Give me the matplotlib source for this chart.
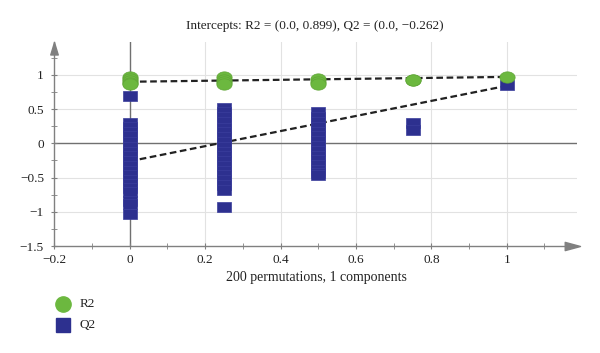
import matplotlib
matplotlib.use("Agg")
import matplotlib.pyplot as plt
from matplotlib.path import Path
import numpy as np

plt.rcParams['font.family'] = ['Liberation Serif', 'DejaVu Serif']

# ---- data ----
title = "Intercepts: R2 = (0.0, 0.899), Q2 = (0.0, \u22120.262)"
xlabel = "200 permutations, 1 components"

r2_x = [0, 0, 0, 0, 0, 0.25, 0.25, 0.25, 0.25, 0.5, 0.5, 0.5, 0.75, 0.75, 1.0]
r2_y = [0.97, 0.94, 0.91, 0.88, 0.86, 0.97, 0.93, 0.89, 0.86, 0.94, 0.90, 0.87, 0.93, 0.92, 0.97]

q2_x = [0]*20 + [0.25]*19 + [0.5]*15 + [0.75]*2 + [1.0]
q2_y = ([0.69, 0.30, 0.24, 0.17, 0.10, 0.02, -0.05, -0.12, -0.19, -0.26, -0.33, -0.40,
         -0.46, -0.53, -0.60, -0.66, -0.71, -0.84, -0.89, -1.03] +
        [0.52, 0.45, 0.38, 0.31, 0.23, 0.16, 0.09, 0.02, -0.05, -0.12, -0.19, -0.26,
         -0.33, -0.40, -0.47, -0.54, -0.61, -0.68, -0.93] +
        [0.45, 0.38, 0.31, 0.24, 0.17, 0.10, 0.03, -0.04, -0.11, -0.18, -0.25, -0.32,
         -0.39, -0.44, -0.47] +
        [0.29, 0.20] +
        [0.85])

r2_intercept = 0.899
r2_orig = 0.97
q2_intercept = -0.262
q2_orig = 0.84

xticks = [-0.2, 0, 0.2, 0.4, 0.6, 0.8, 1]
xticklabels = ["\u22120.2", "0", "0.2", "0.4", "0.6", "0.8", "1"]
yticks = [-1.5, -1, -0.5, 0, 0.5, 1]
yticklabels = ["\u22121.5", "\u22121", "\u22120.5", "0", "0.5", "1"]

# ---- markers ----
t = np.linspace(0, 2*np.pi, 60)
ell = Path(np.column_stack([0.5*np.cos(t), 0.37*np.sin(t)]), closed=True)
rect = Path([(-0.5, -0.32), (0.5, -0.32), (0.5, 0.32), (-0.5, 0.32), (-0.5, -0.32)], closed=True)
# arrow heads with the tip at the origin
arrow_r = Path([(0, 0), (-1.0, 0.27), (-1.0, -0.27), (0, 0)], closed=True)
arrow_u = Path([(0, 0), (0.3, -1.0), (-0.3, -1.0), (0, 0)], closed=True)

green = "#6cb83f"
green_e = "#5fa536"
blue = "#2d308f"
blue_e = "#3a3d9c"
axcol = "#808080"

fig = plt.figure(figsize=(6.0, 3.53), dpi=100)
ax = fig.add_axes([0.0905, 0.3031, 0.871, 0.578])
ax.set_xlim(-0.2, 1.186)
ax.set_ylim(-1.5, 1.48)

ax.set_xticks(xticks)
ax.set_xticklabels(xticklabels)
ax.set_xticks(np.arange(-0.1, 1.15, 0.2), minor=True)
ax.set_yticks(yticks)
ax.set_yticklabels(yticklabels)
ax.set_yticks(np.arange(-1.25, 1.3, 0.5), minor=True)

for s in ['top', 'right']:
    ax.spines[s].set_visible(False)
for s in ['left', 'bottom']:
    ax.spines[s].set_color(axcol)
    ax.spines[s].set_linewidth(1.0)
ax.tick_params(which='both', direction='inout', color=axcol, labelsize=9.5,
               labelcolor="#222222")
ax.tick_params(which='major', length=5)
ax.tick_params(which='minor', length=4)
ax.tick_params(axis='x', pad=3)
ax.tick_params(axis='y', pad=5)

for xv in xticks[1:]:
    if xv != 0:
        ax.axvline(xv, color="#e2e2e2", lw=0.8, zorder=0)
for yv in yticks[1:]:
    if yv != 0:
        ax.axhline(yv, color="#e2e2e2", lw=0.8, zorder=0)
ax.axvline(0, color="#707070", lw=1.0, zorder=1)
ax.axhline(0, color="#707070", lw=1.0, zorder=1)

# axis arrows
ax.plot([1.005], [0], marker=arrow_r, markersize=22, color=axcol, transform=ax.transAxes,
        clip_on=False, zorder=5)
ax.plot([0], [1], marker=arrow_u, markersize=18, color=axcol, transform=ax.transAxes,
        clip_on=False, zorder=5)

# regression lines
ax.plot([0, 1], [r2_intercept, r2_orig], color="#222222", lw=1.6, ls=(0, (3, 1.6)), zorder=2)
ax.plot([0, 1], [q2_intercept, q2_orig], color="#222222", lw=1.6, ls=(0, (3, 1.6)), zorder=2)

ax.plot(q2_x, q2_y, ls='none', marker=rect, markersize=10.5, markerfacecolor=blue,
        markeredgecolor=blue_e, markeredgewidth=0.5, zorder=3)
ax.plot(r2_x, r2_y, ls='none', marker=ell, markersize=11, markerfacecolor=green,
        markeredgecolor=green_e, markeredgewidth=0.5, zorder=4)

fig.text(315/600, 1 - 26/353, title, ha='center', va='center', fontsize=9.5, color="#222222")
fig.text(316/600, 1 - 277/353, xlabel, ha='center', va='center', fontsize=10, color="#222222")

# legend
fig.lines.append(plt.Line2D([63/600], [1 - 304/353], transform=fig.transFigure, marker='o',
                            markersize=11, color=green, ls='none'))
fig.lines.append(plt.Line2D([63/600], [1 - 325/353], transform=fig.transFigure, marker='s',
                            markersize=10.5, color=blue, ls='none'))
fig.text(80/600, 1 - 304/353, "R2", ha='left', va='center', fontsize=9.5, color="#222222")
fig.text(80/600, 1 - 325/353, "Q2", ha='left', va='center', fontsize=9.5, color="#222222")

fig.savefig("out.png", dpi=100)
